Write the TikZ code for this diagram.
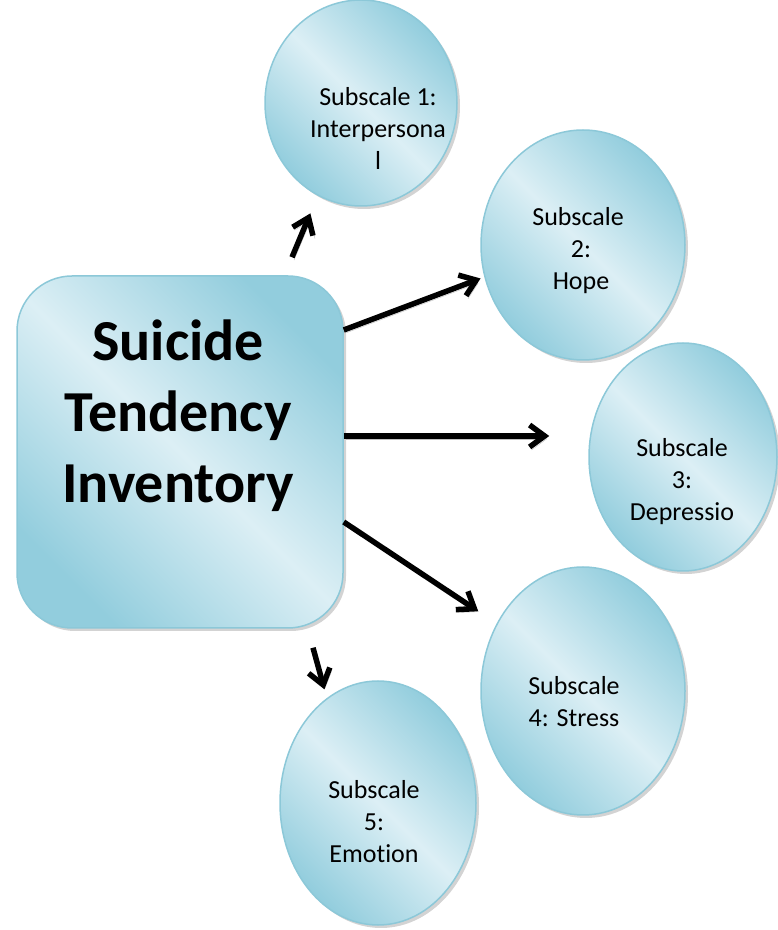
\documentclass[tikz,border=0pt]{standalone}
\usepackage{fontspec}
\setmainfont{Carlito}[Ligatures=NoCommon]
\usepackage{xcolor}
\definecolor{aqualight}{RGB}{220,239,245}
\definecolor{aquadark}{RGB}{146,205,221}
\definecolor{aquaedge}{RGB}{140,200,216}
\usetikzlibrary{shapes.geometric,arrows.meta,positioning,calc,shadows}
\newcommand\trailsp{\kern0.226em}

\begin{document}
\begin{tikzpicture}[x=1pt, y=1pt,
    bubble/.style={ellipse, draw=aquaedge, line width=1.5pt,
                   top color=aquadark, bottom color=aquadark, middle color=aqualight,
                   shading angle=-45, inner sep=0pt,
                   drop shadow={shadow xshift=3pt, shadow yshift=-3pt, opacity=0.35}},
    mainbox/.style={rectangle, rounded corners=55pt, draw=aquaedge, line width=1.5pt,
                    top color=aquadark, bottom color=aquadark, middle color=aqualight,
                    shading angle=-45, inner sep=0pt,
                    minimum width=326pt, minimum height=352pt,
                    drop shadow={shadow xshift=3pt, shadow yshift=-3pt, opacity=0.35}},
    subtext/.style={align=center, font=\fontsize{26}{32}\selectfont},
    arr/.style={-{Straight Barb[length=15pt, width=22pt, line width=5.5pt]}, line width=5.5pt, black,
                preaction={draw=black, opacity=0.25, transform canvas={shift={(2pt,-3pt)}}}},
  ]
    \useasboundingbox (0,0) rectangle (778,930);

    \node[mainbox] (sti) at (180,478) {};
    \node[align=center, font=\fontsize{58}{71}\selectfont\bfseries] (stitext)
      at ([xshift=-2pt, yshift=36pt]sti.center) {Suicide\\Tendency\\Inventory};

    \node[bubble, minimum width=192pt, minimum height=206pt] (s1) at (361,827) {};
    \node[bubble, minimum width=204pt, minimum height=230pt] (s2) at (583,685) {};
    \node[bubble, minimum width=188pt, minimum height=228pt] (s3) at (683,473) {};
    \node[bubble, minimum width=204pt, minimum height=248pt] (s4) at (583,239) {};
    \node[bubble, minimum width=196pt, minimum height=244pt] (s5) at (378,127) {};

    \node[subtext] (t1) at ([xshift=17pt, yshift=-25pt]s1.center) {Subscale 1:\\Interpersona\\l};
    \node[subtext] (t2) at ([xshift=-2pt, yshift=-6pt]s2.center) {Subscale\trailsp\\2:\\Hope};
    \node[subtext] (t3) at ([xshift=-1pt, yshift=-25pt]s3.center) {Subscale\\3:\\Depressio};
    \node[subtext] (t4) at ([xshift=-9pt, yshift=-11pt]s4.center) {Subscale\\4: Stress};
    \node[subtext] (t5) at ([xshift=-4pt, yshift=-19pt]s5.center) {Subscale\\5:\\Emotion};

    \coordinate (a1) at ([xshift=112pt, yshift=18pt]sti.north);
    \coordinate (a2) at ([yshift=122pt]sti.east);
    \coordinate (a3) at ([yshift=16pt]sti.east);
    \coordinate (a4) at ([yshift=-70pt]sti.east);
    \coordinate (a5) at ([xshift=133pt, yshift=-19pt]sti.south);

    \draw[arr, shorten >=19pt] (a1) -- (s1.245);
    \draw[arr, shorten >=4pt] (a2) -- (s2.198);
    \draw[arr, shorten >=39pt] (a3) -- (a3 -| s3.west);
    \draw[arr, shorten >=22pt] (a4) -- (s4.142);
    \draw[arr, shorten >=9pt] (a5) -- (s5.116);
  \end{tikzpicture}
\end{document}
